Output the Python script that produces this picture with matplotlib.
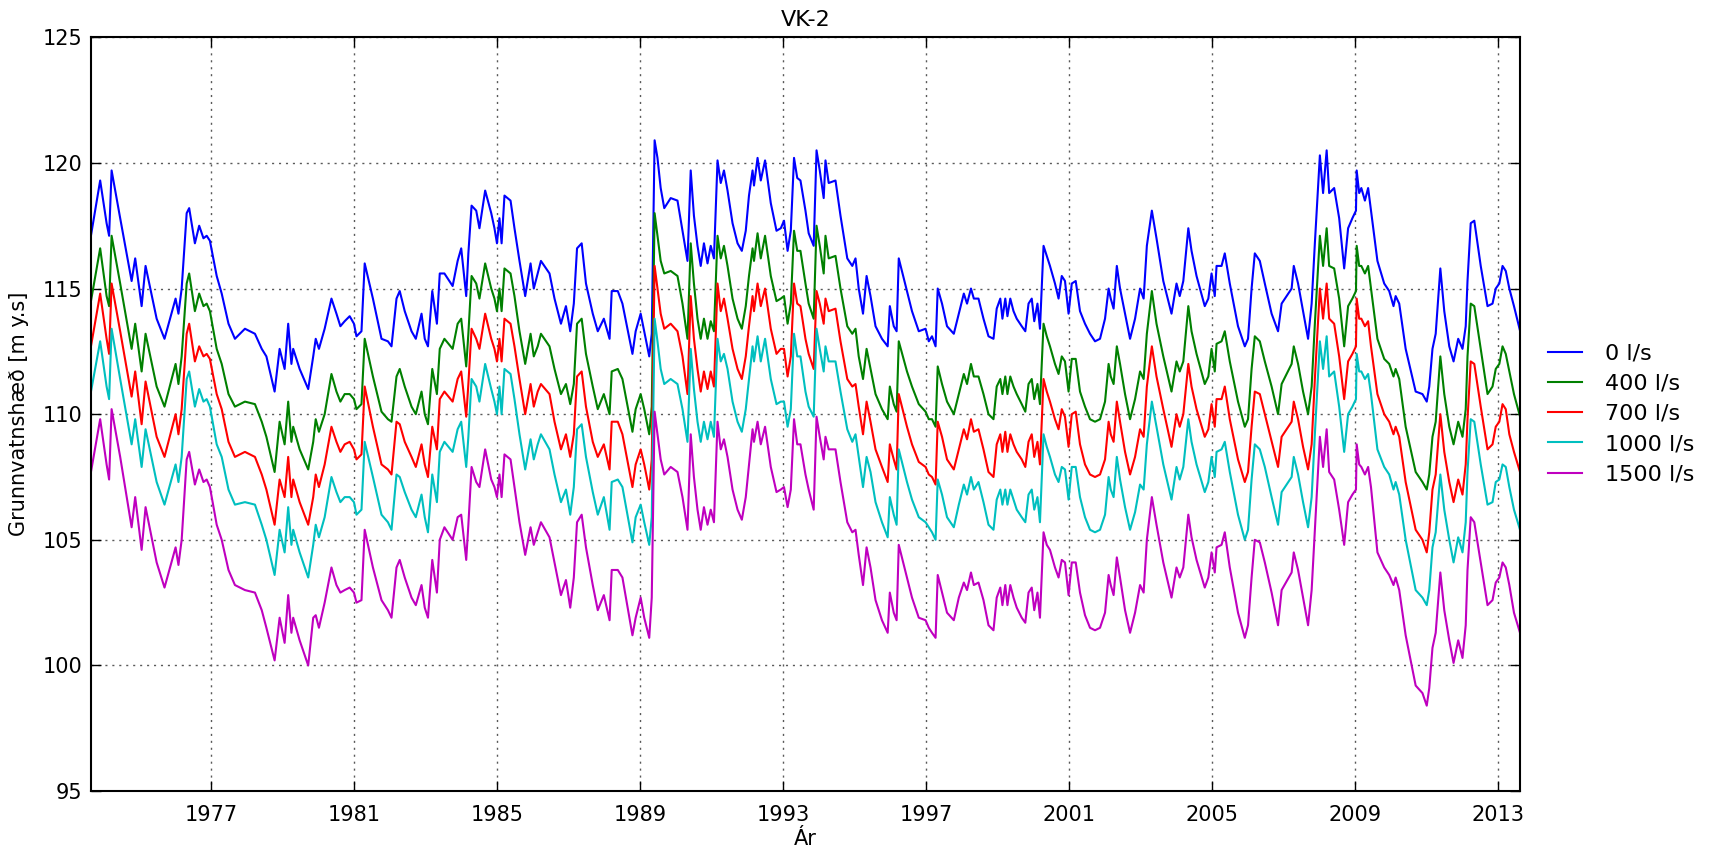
import matplotlib
matplotlib.use("Agg")
import matplotlib.pyplot as plt

plt.rcParams['font.family'] = ['DejaVu Sans']

# decimal years of the sampled points
years = [
    1973.63, 1973.90, 1974.08, 1974.15, 1974.22, 1974.46, 1974.78, 1974.88, 1975.06, 1975.17,
    1975.48, 1975.70, 1976.01, 1976.09, 1976.18, 1976.32, 1976.39, 1976.55, 1976.67, 1976.79,
    1976.88, 1976.97, 1977.16, 1977.30, 1977.49, 1977.67, 1977.95, 1978.23, 1978.42,
    1978.55, 1978.78, 1978.92, 1979.06, 1979.16, 1979.25, 1979.30, 1979.48, 1979.72, 1979.86,
    1979.93, 1980.02, 1980.18, 1980.37, 1980.51, 1980.62, 1980.74, 1980.88, 1981.00, 1981.07,
    1981.21, 1981.30, 1981.53, 1981.77, 1981.95, 1982.05, 1982.19, 1982.28, 1982.42, 1982.61,
    1982.73, 1982.89, 1982.98, 1983.07, 1983.19, 1983.32, 1983.40,
    1983.53, 1983.76, 1983.90, 1984.00, 1984.14, 1984.20, 1984.29, 1984.42, 1984.51, 1984.67,
    1984.84, 1984.93, 1985.00, 1985.07, 1985.13, 1985.21, 1985.38, 1985.49, 1985.63, 1985.79,
    1985.94, 1986.03, 1986.14, 1986.23, 1986.47, 1986.61, 1986.79, 1986.93, 1987.05, 1987.15,
    1987.24, 1987.37, 1987.49, 1987.68, 1987.82, 1987.99, 1988.15, 1988.21, 1988.38,
    1988.51, 1988.79, 1988.88, 1989.02, 1989.12, 1989.26, 1989.33, 1989.41, 1989.49, 1989.58,
    1989.68, 1989.86, 1990.05, 1990.19, 1990.33, 1990.42, 1990.51, 1990.61, 1990.70, 1990.79,
    1990.89, 1990.98, 1991.07, 1991.17, 1991.26, 1991.35, 1991.45, 1991.59, 1991.73, 1991.85,
    1991.96, 1992.05, 1992.15, 1992.19, 1992.29, 1992.38, 1992.50, 1992.66, 1992.82, 1992.94,
    1993.03, 1993.13, 1993.22, 1993.31, 1993.40,
    1993.49, 1993.63, 1993.72, 1993.86, 1993.94, 1994.03, 1994.14, 1994.19, 1994.28, 1994.47,
    1994.61, 1994.80, 1994.94, 1995.03, 1995.12, 1995.24, 1995.34, 1995.45, 1995.59, 1995.77,
    1995.93, 1995.99, 1996.10, 1996.18, 1996.24, 1996.47, 1996.61, 1996.80, 1996.99, 1997.08,
    1997.17, 1997.27, 1997.33, 1997.45, 1997.59, 1997.78, 1997.92, 1998.06, 1998.15, 1998.26,
    1998.34,
    1998.47, 1998.61, 1998.75, 1998.89, 1998.98, 1999.08, 1999.14, 1999.22, 1999.28, 1999.36,
    1999.45, 1999.54, 1999.68, 1999.78, 1999.87, 1999.96, 2000.03, 2000.12, 2000.19, 2000.29,
    2000.38, 2000.47, 2000.61, 2000.71, 2000.80, 2000.89, 2000.99, 2001.08, 2001.19, 2001.31,
    2001.45, 2001.59, 2001.73, 2001.87, 2002.01, 2002.11, 2002.17, 2002.25, 2002.34, 2002.43,
    2002.57, 2002.71, 2002.85, 2002.99, 2003.09, 2003.18, 2003.32,
    2003.45, 2003.64, 2003.87, 2004.01, 2004.10, 2004.20, 2004.34, 2004.43, 2004.57, 2004.80,
    2004.90, 2004.99, 2005.08, 2005.13, 2005.27, 2005.36, 2005.50, 2005.73, 2005.92, 2006.01,
    2006.11, 2006.20, 2006.34, 2006.48, 2006.67, 2006.85, 2006.95, 2007.23, 2007.29, 2007.41,
    2007.55, 2007.69, 2007.79, 2007.88, 2008.02, 2008.11, 2008.21, 2008.28,
    2008.42, 2008.56, 2008.70, 2008.81, 2008.93, 2009.03, 2009.05, 2009.12, 2009.18, 2009.28,
    2009.37, 2009.45, 2009.63, 2009.82, 2009.96, 2010.08, 2010.14, 2010.24, 2010.42, 2010.70,
    2010.89, 2011.01, 2011.08, 2011.17, 2011.26, 2011.39, 2011.50, 2011.64, 2011.76, 2011.89,
    2012.01, 2012.10, 2012.15, 2012.24, 2012.34, 2012.52, 2012.71, 2012.85, 2012.94, 2013.04,
    2013.13, 2013.22, 2013.32, 2013.45, 2013.64,
]

level_0 = [
    117.0, 119.3, 117.6, 117.1, 119.7, 117.8, 115.3, 116.2, 114.3, 115.9, 113.8, 113.0, 114.6, 114.0, 115.0,
    118.0, 118.2, 116.8, 117.5, 117.0, 117.1, 116.9, 115.5, 114.8, 113.6, 113.0, 113.4, 113.2, 112.6,
    112.3, 110.9, 112.6, 111.8, 113.6, 112.0, 112.6, 111.8, 111.0, 112.3, 113.0, 112.6, 113.4, 114.6, 114.0,
    113.5, 113.7, 113.9, 113.6, 113.1, 113.3, 116.0, 114.6, 113.0, 112.9, 112.7, 114.6, 114.9, 114.1, 113.3,
    113.0, 114.0, 113.0, 112.7, 114.9, 113.6, 115.6,
    115.6, 115.1, 116.1, 116.6, 114.7, 116.4, 118.3, 118.1, 117.4, 118.9, 118.0, 117.4, 116.8, 117.8, 116.8,
    118.7, 118.5, 117.4, 116.1, 114.7, 116.0, 115.0, 115.6, 116.1, 115.6, 114.6, 113.6, 114.3, 113.3, 114.4,
    116.6, 116.8, 115.2, 114.0, 113.3, 113.8, 113.0, 114.9, 114.9,
    114.4, 112.4, 113.3, 114.0, 113.3, 112.3, 113.2, 120.9, 120.2, 119.0, 118.2, 118.6, 118.5, 117.3, 116.1,
    119.7, 117.9, 116.7, 115.9, 116.8, 116.0, 116.7, 116.2, 120.1, 119.2, 119.7, 118.9, 117.6, 116.8, 116.5,
    117.3, 118.7, 119.7, 119.1, 120.2, 119.3, 120.1, 118.4, 117.3, 117.4, 117.7, 116.5, 117.3, 120.2, 119.4,
    119.3, 118.1, 117.2, 116.7, 120.5, 119.7, 118.6, 120.1, 119.2, 119.3, 117.9, 116.2, 115.9, 116.2, 115.0,
    114.0, 115.5, 114.7, 113.5, 113.0, 112.7, 114.3, 113.5, 113.3, 116.2, 114.9, 114.1, 113.3, 113.4, 112.9,
    113.1, 112.7, 115.0, 114.4, 113.5, 113.2, 114.0, 114.8, 114.4, 115.0, 114.6,
    114.6, 113.8, 113.1, 113.0, 114.2, 114.6, 113.8, 114.6, 113.9, 114.6, 114.1, 113.8, 113.5, 113.3, 114.4,
    114.6, 113.7, 114.4, 113.4, 116.7, 116.3, 115.9, 115.2, 114.6, 115.5, 115.3, 114.0, 115.2, 115.3, 114.1,
    113.6, 113.2, 112.9, 113.0, 113.8, 115.0, 114.6, 114.2, 115.9, 115.0, 114.0, 113.0, 113.8, 115.0, 114.6,
    116.7, 118.1,
    117.0, 115.3, 114.0, 115.2, 114.7, 115.3, 117.4, 116.5, 115.5, 114.3, 114.6, 115.6, 114.7, 115.9, 115.9,
    116.4, 115.2, 113.5, 112.7, 113.0, 115.0, 116.4, 116.1, 115.2, 114.0, 113.3, 114.4, 115.0, 115.9, 115.2,
    114.1, 113.0, 114.4, 116.8, 120.3, 118.8, 120.5, 118.8,
    119.0, 117.8, 115.8, 117.4, 117.8, 118.1, 119.7, 118.8, 119.0, 118.5, 119.0, 118.1, 116.1, 115.2, 114.9,
    114.3, 114.7, 114.4, 112.6, 110.9, 110.8, 110.5, 111.1, 112.6, 113.2, 115.8, 114.1, 112.7, 112.1, 113.0,
    112.6, 113.5, 115.3, 117.6, 117.7, 115.9, 114.3, 114.4, 115.0, 115.2, 115.9, 115.7, 115.0, 114.3, 113.2,
]

level_400 = [
    114.4, 116.6, 114.7, 114.3, 117.1, 115.2, 112.6, 113.6, 111.7, 113.2, 111.1, 110.3, 112.0, 111.2, 112.3,
    115.2, 115.6, 114.1, 114.8, 114.3, 114.4, 114.1, 112.6, 112.0, 110.8, 110.3, 110.5, 110.4, 109.7,
    109.1, 107.7, 109.7, 108.8, 110.5, 108.9, 109.5, 108.6, 107.8, 108.9, 109.8, 109.3, 110.0, 111.6, 110.9,
    110.5, 110.8, 110.8, 110.6, 110.2, 110.4, 113.0, 111.5, 110.1, 109.8, 109.7, 111.5, 111.8, 111.1, 110.3,
    110.0, 110.9, 110.0, 109.6, 111.8, 110.8, 112.6,
    113.0, 112.6, 113.6, 113.8, 111.9, 113.2, 115.5, 115.2, 114.6, 116.0, 115.0, 114.6, 114.1, 115.0, 114.1,
    115.8, 115.6, 114.7, 113.3, 112.0, 113.2, 112.3, 112.7, 113.2, 112.7, 111.8, 110.8, 111.2, 110.4, 111.2,
    113.6, 113.8, 112.4, 111.1, 110.2, 110.8, 110.0, 111.7, 111.8,
    111.4, 109.3, 110.2, 110.8, 110.2, 109.2, 110.3, 118.0, 117.1, 116.1, 115.6, 115.7, 115.5, 114.4, 113.0,
    116.8, 115.2, 113.8, 113.0, 113.8, 113.0, 113.7, 113.3, 117.1, 116.2, 116.7, 115.9, 114.6, 113.8, 113.4,
    114.3, 115.5, 116.6, 116.1, 117.2, 116.2, 117.1, 115.5, 114.5, 114.6, 114.7, 113.6, 114.4, 117.3, 116.5,
    116.5, 115.2, 114.4, 113.8, 117.5, 116.7, 115.6, 117.1, 116.2, 116.3, 115.0, 113.5, 113.2, 113.4, 112.3,
    111.4, 112.6, 111.8, 110.8, 110.2, 109.8, 111.1, 110.4, 110.1, 112.9, 111.7, 111.1, 110.4, 110.1, 109.8,
    109.8, 109.5, 111.9, 111.2, 110.5, 110.0, 110.8, 111.6, 111.2, 112.0, 111.5,
    111.5, 110.8, 110.0, 109.8, 111.1, 111.4, 110.8, 111.5, 110.8, 111.5, 111.1, 110.8, 110.4, 110.1, 111.2,
    111.4, 110.6, 111.2, 110.4, 113.6, 113.1, 112.7, 112.0, 111.6, 112.3, 112.1, 110.9, 112.2, 112.2, 110.9,
    110.3, 109.8, 109.7, 109.8, 110.5, 112.0, 111.5, 111.2, 112.7, 112.0, 110.8, 109.8, 110.6, 111.7, 111.4,
    113.2, 114.9,
    113.6, 112.3, 110.9, 112.1, 111.7, 112.1, 114.3, 113.3, 112.4, 111.2, 111.5, 112.6, 111.7, 112.8, 112.9,
    113.3, 112.1, 110.5, 109.5, 109.8, 111.8, 113.1, 112.9, 112.1, 111.1, 110.0, 111.2, 112.0, 112.7, 112.0,
    110.9, 110.0, 111.1, 113.6, 117.1, 115.9, 117.4, 115.9,
    115.8, 114.6, 112.7, 114.3, 114.6, 114.9, 116.7, 115.9, 115.9, 115.6, 115.9, 115.0, 113.0, 112.2, 112.0,
    111.5, 111.8, 111.4, 109.5, 107.7, 107.3, 107.0, 107.6, 109.1, 109.7, 112.3, 110.8, 109.5, 108.8, 109.7,
    109.1, 110.2, 112.3, 114.4, 114.3, 112.6, 110.8, 111.1, 111.8, 112.0, 112.7, 112.4, 111.7, 110.8, 109.8,
]

level_700 = [
    112.6, 114.8, 113.0, 112.4, 115.2, 113.3, 110.7, 111.7, 109.6, 111.3, 109.1, 108.3, 110.0, 109.2, 110.2,
    113.2, 113.6, 112.1, 112.7, 112.3, 112.4, 112.2, 110.8, 110.2, 108.9, 108.3, 108.5, 108.3, 107.6,
    107.0, 105.6, 107.4, 106.7, 108.3, 106.7, 107.4, 106.5, 105.6, 106.7, 107.6, 107.1, 108.0, 109.5, 108.9,
    108.5, 108.8, 108.9, 108.6, 108.2, 108.4, 111.1, 109.5, 108.0, 107.8, 107.6, 109.7, 109.6, 108.9, 108.3,
    107.9, 108.8, 108.0, 107.5, 109.5, 108.6, 110.6,
    110.9, 110.5, 111.4, 111.7, 109.9, 111.2, 113.4, 113.0, 112.6, 114.0, 113.0, 112.6, 112.1, 113.0, 112.1,
    113.8, 113.6, 112.7, 111.4, 110.0, 111.2, 110.3, 110.9, 111.2, 110.8, 109.7, 108.6, 109.2, 108.3, 109.2,
    111.5, 111.7, 110.3, 108.9, 108.3, 108.8, 107.8, 109.7, 109.7,
    109.2, 107.1, 108.0, 108.6, 108.0, 107.0, 108.2, 115.9, 115.0, 114.0, 113.4, 113.6, 113.3, 112.3, 110.8,
    114.7, 113.0, 111.8, 110.9, 111.7, 111.0, 111.7, 111.1, 115.2, 114.1, 114.6, 113.8, 112.6, 111.8, 111.4,
    112.3, 113.5, 114.7, 114.1, 115.2, 114.3, 115.0, 113.4, 112.4, 112.6, 112.6, 111.5, 112.3, 115.2, 114.4,
    114.3, 113.0, 112.4, 111.8, 114.9, 114.4, 113.6, 114.6, 114.1, 114.2, 112.9, 111.4, 111.1, 111.2, 110.3,
    109.2, 110.5, 109.7, 108.6, 107.9, 107.3, 108.8, 108.2, 107.8, 110.8, 109.5, 108.8, 108.1, 107.9, 107.6,
    107.5, 107.2, 109.7, 109.1, 108.2, 107.8, 108.6, 109.4, 109.0, 109.8, 109.3,
    109.4, 108.6, 107.7, 107.5, 108.8, 109.2, 108.5, 109.3, 108.5, 109.2, 108.8, 108.5, 108.2, 107.9, 108.9,
    109.2, 108.3, 108.9, 108.0, 111.4, 110.9, 110.5, 109.8, 109.4, 110.2, 109.9, 108.7, 110.0, 110.1, 108.8,
    108.0, 107.6, 107.5, 107.6, 108.2, 109.7, 109.2, 108.9, 110.5, 109.7, 108.5, 107.6, 108.3, 109.4, 109.1,
    111.1, 112.7,
    111.5, 110.2, 108.7, 110.0, 109.5, 110.0, 112.0, 111.1, 110.2, 109.1, 109.4, 110.4, 109.5, 110.6, 110.6,
    111.1, 109.8, 108.2, 107.3, 107.7, 109.5, 110.9, 110.8, 110.0, 108.9, 107.9, 109.1, 109.7, 110.5, 109.8,
    108.7, 107.8, 108.8, 111.4, 115.0, 113.8, 115.2, 113.8,
    113.6, 112.3, 110.6, 112.1, 112.4, 112.7, 114.6, 113.8, 113.8, 113.5, 113.7, 112.7, 110.8, 110.0, 109.7,
    109.2, 109.5, 109.1, 107.3, 105.4, 105.0, 104.5, 105.3, 107.0, 107.6, 110.0, 108.5, 107.3, 106.5, 107.4,
    106.8, 108.0, 109.8, 112.1, 112.0, 110.3, 108.6, 108.8, 109.5, 109.7, 110.4, 110.2, 109.2, 108.5, 107.6,
]

level_1000 = [
    110.8, 112.9, 111.1, 110.6, 113.4, 111.4, 108.8, 109.8, 107.9, 109.4, 107.3, 106.4, 108.0, 107.3, 108.3,
    111.4, 111.7, 110.3, 111.0, 110.5, 110.6, 110.3, 108.8, 108.3, 107.0, 106.4, 106.5, 106.4, 105.6,
    105.0, 103.6, 105.4, 104.5, 106.3, 104.8, 105.4, 104.5, 103.5, 104.8, 105.6, 105.1, 105.9, 107.5, 106.9,
    106.5, 106.7, 106.7, 106.5, 106.0, 106.2, 108.9, 107.5, 106.0, 105.7, 105.4, 107.6, 107.5, 106.9, 106.2,
    105.9, 106.8, 105.9, 105.3, 107.6, 106.5, 108.5,
    108.9, 108.5, 109.4, 109.7, 107.9, 109.1, 111.4, 111.1, 110.5, 112.0, 111.0, 110.5, 110.0, 111.1, 110.0,
    111.8, 111.6, 110.6, 109.2, 107.8, 109.0, 108.2, 108.8, 109.2, 108.6, 107.6, 106.5, 107.0, 106.0, 107.1,
    109.4, 109.6, 108.3, 106.9, 106.0, 106.7, 105.4, 107.3, 107.4,
    107.1, 104.9, 105.9, 106.4, 105.7, 104.8, 105.9, 113.8, 112.9, 111.8, 111.2, 111.4, 111.2, 110.2, 108.9,
    112.6, 111.0, 109.7, 108.9, 109.7, 109.0, 109.7, 109.1, 113.0, 112.1, 112.4, 111.8, 110.5, 109.7, 109.3,
    110.2, 111.4, 112.7, 112.1, 113.1, 112.1, 113.0, 111.4, 110.4, 110.5, 110.5, 109.5, 110.2, 113.2, 112.3,
    112.3, 110.9, 110.3, 109.9, 113.4, 112.6, 111.7, 112.7, 112.1, 112.1, 110.9, 109.4, 108.9, 109.2, 108.3,
    107.1, 108.3, 107.7, 106.5, 105.7, 105.1, 106.7, 106.0, 105.6, 108.6, 107.3, 106.6, 105.9, 105.7, 105.5,
    105.3, 105.0, 107.4, 106.8, 105.9, 105.5, 106.4, 107.2, 106.8, 107.5, 107.0,
    107.3, 106.5, 105.6, 105.4, 106.6, 107.0, 106.4, 107.0, 106.4, 107.0, 106.6, 106.2, 105.9, 105.7, 106.8,
    107.0, 106.2, 106.7, 105.7, 109.2, 108.7, 108.3, 107.6, 107.3, 107.9, 107.8, 106.6, 107.9, 107.9, 106.7,
    105.9, 105.4, 105.3, 105.4, 106.0, 107.5, 107.0, 106.7, 108.3, 107.4, 106.3, 105.4, 106.1, 107.2, 107.0,
    108.8, 110.5,
    109.5, 108.0, 106.6, 107.9, 107.4, 107.9, 109.8, 108.9, 108.0, 106.9, 107.3, 108.3, 107.5, 108.5, 108.6,
    108.9, 107.7, 106.0, 105.0, 105.4, 107.4, 108.8, 108.6, 107.9, 106.7, 105.6, 106.9, 107.5, 108.3, 107.6,
    106.5, 105.5, 106.7, 109.2, 112.9, 111.8, 113.1, 111.5,
    111.7, 110.3, 108.5, 110.0, 110.3, 110.6, 112.4, 111.7, 111.7, 111.4, 111.6, 110.8, 108.6, 107.9, 107.6,
    107.0, 107.3, 106.8, 105.0, 103.0, 102.7, 102.4, 103.0, 104.7, 105.3, 107.6, 106.2, 105.0, 104.1, 105.1,
    104.5, 105.7, 107.7, 109.8, 109.7, 108.0, 106.4, 106.5, 107.3, 107.4, 108.0, 107.9, 107.1, 106.2, 105.3,
]

level_1500 = [
    107.6, 109.8, 108.0, 107.4, 110.2, 108.3, 105.5, 106.7, 104.6, 106.3, 104.1, 103.1, 104.7, 104.0, 105.0,
    108.2, 108.5, 107.2, 107.8, 107.3, 107.4, 107.1, 105.6, 105.0, 103.8, 103.2, 103.0, 102.9, 102.2,
    101.5, 100.2, 101.9, 100.9, 102.8, 101.3, 101.9, 101.0, 100.0, 101.9, 102.0, 101.5, 102.5, 103.9, 103.2,
    102.9, 103.0, 103.1, 102.9, 102.5, 102.6, 105.4, 103.9, 102.6, 102.2, 101.9, 103.9, 104.2, 103.5, 102.7,
    102.4, 103.2, 102.3, 101.9, 104.2, 102.9, 105.0,
    105.5, 105.0, 105.9, 106.0, 104.2, 105.6, 107.9, 107.3, 107.1, 108.6, 107.4, 107.1, 106.7, 107.6, 106.7,
    108.4, 108.2, 107.1, 105.7, 104.4, 105.5, 104.8, 105.3, 105.7, 105.1, 104.1, 102.8, 103.4, 102.3, 103.5,
    105.7, 106.0, 104.7, 103.2, 102.2, 102.8, 101.8, 103.8, 103.8,
    103.5, 101.2, 101.9, 102.7, 101.9, 101.1, 102.7, 110.1, 109.2, 108.2, 107.6, 107.9, 107.7, 106.7, 105.4,
    109.2, 107.5, 106.2, 105.4, 106.3, 105.6, 106.2, 105.7, 109.7, 108.6, 109.0, 108.3, 107.0, 106.2, 105.8,
    106.7, 108.0, 109.4, 108.9, 109.7, 108.8, 109.5, 107.9, 106.9, 107.0, 107.1, 106.3, 107.0, 109.8, 108.8,
    108.8, 107.6, 107.0, 106.2, 109.9, 109.1, 108.2, 109.1, 108.6, 108.6, 107.3, 105.7, 105.3, 105.4, 104.4,
    103.2, 104.7, 103.9, 102.6, 101.8, 101.3, 102.9, 102.1, 101.8, 104.8, 103.5, 102.7, 101.9, 101.8, 101.5,
    101.3, 101.1, 103.6, 102.9, 102.1, 101.8, 102.7, 103.3, 103.0, 103.7, 103.2,
    103.3, 102.6, 101.6, 101.4, 102.7, 103.1, 102.4, 103.2, 102.4, 103.2, 102.7, 102.3, 101.9, 101.7, 102.9,
    103.1, 102.2, 102.9, 101.9, 105.3, 104.8, 104.6, 103.9, 103.5, 104.2, 104.1, 102.8, 104.1, 104.1, 102.9,
    102.0, 101.5, 101.4, 101.5, 102.1, 103.6, 103.2, 102.8, 104.3, 103.5, 102.2, 101.3, 102.1, 103.2, 102.9,
    105.0, 106.7,
    105.6, 104.1, 102.7, 103.9, 103.5, 103.9, 106.0, 105.1, 104.2, 103.1, 103.5, 104.5, 103.7, 104.7, 104.8,
    105.3, 103.9, 102.1, 101.1, 101.6, 103.5, 105.0, 104.9, 104.1, 102.9, 101.6, 103.0, 103.7, 104.5, 103.8,
    102.7, 101.6, 103.0, 105.4, 109.1, 107.9, 109.4, 107.7,
    107.4, 106.2, 104.8, 106.5, 106.8, 107.0, 108.8, 108.0, 107.9, 107.6, 107.9, 107.1, 104.5, 103.9, 103.6,
    103.2, 103.5, 103.0, 101.2, 99.2, 98.9, 98.4, 99.1, 100.7, 101.3, 103.7, 102.2, 101.0, 100.1, 101.0,
    100.3, 101.6, 103.8, 105.9, 105.7, 104.1, 102.4, 102.6, 103.3, 103.5, 104.1, 103.9, 103.2, 102.1, 101.2,
]

series_labels = ["0 l/s", "400 l/s", "700 l/s", "1000 l/s", "1500 l/s"]
series_colors = ["#0000ff", "#008000", "#ff0000", "#00bfbf", "#bf00bf"]
year_ticks = [1977, 1981, 1985, 1989, 1993, 1997, 2001, 2005, 2009, 2013]
level_ticks = [95, 100, 105, 110, 115, 120, 125]

fig = plt.figure(figsize=(17.11, 8.47), dpi=100)
ax = fig.add_axes([0.0529, 0.066, 0.8355, 0.890])

all_series = [level_0, level_400, level_700, level_1000, level_1500]
for vals, lab, col in zip(all_series, series_labels, series_colors):
    ax.plot(years, vals, color=col, lw=1.5, label=lab)

ax.set_xlim(1973.63, 2013.62)
ax.set_ylim(95, 125)
ax.set_xticks(year_ticks)
ax.set_yticks(level_ticks)
ax.grid(True, color='0.35', linestyle=(0, (1.5, 3.5)), linewidth=1.0)
ax.tick_params(direction='in', top=True, right=True, length=7, width=1.0,
               labelsize=15, colors='black')
ax.tick_params(axis='x', pad=10)
ax.tick_params(axis='y', pad=6)
for s in ax.spines.values():
    s.set_linewidth(1.5)

ax.set_title('VK-2', fontsize=16, pad=8)
ax.set_xlabel('Ár', fontsize=15, labelpad=3)
ax.set_ylabel('Grunnvatnshæð [m y.s]', fontsize=15, labelpad=10)

fig.legend(loc='center left', bbox_to_anchor=(0.9047, 0.5114), frameon=False,
           fontsize=16, handlelength=1.55, handletextpad=1.0, labelspacing=0.46,
           borderpad=0, borderaxespad=0)

fig.savefig('out.png', dpi=100)
